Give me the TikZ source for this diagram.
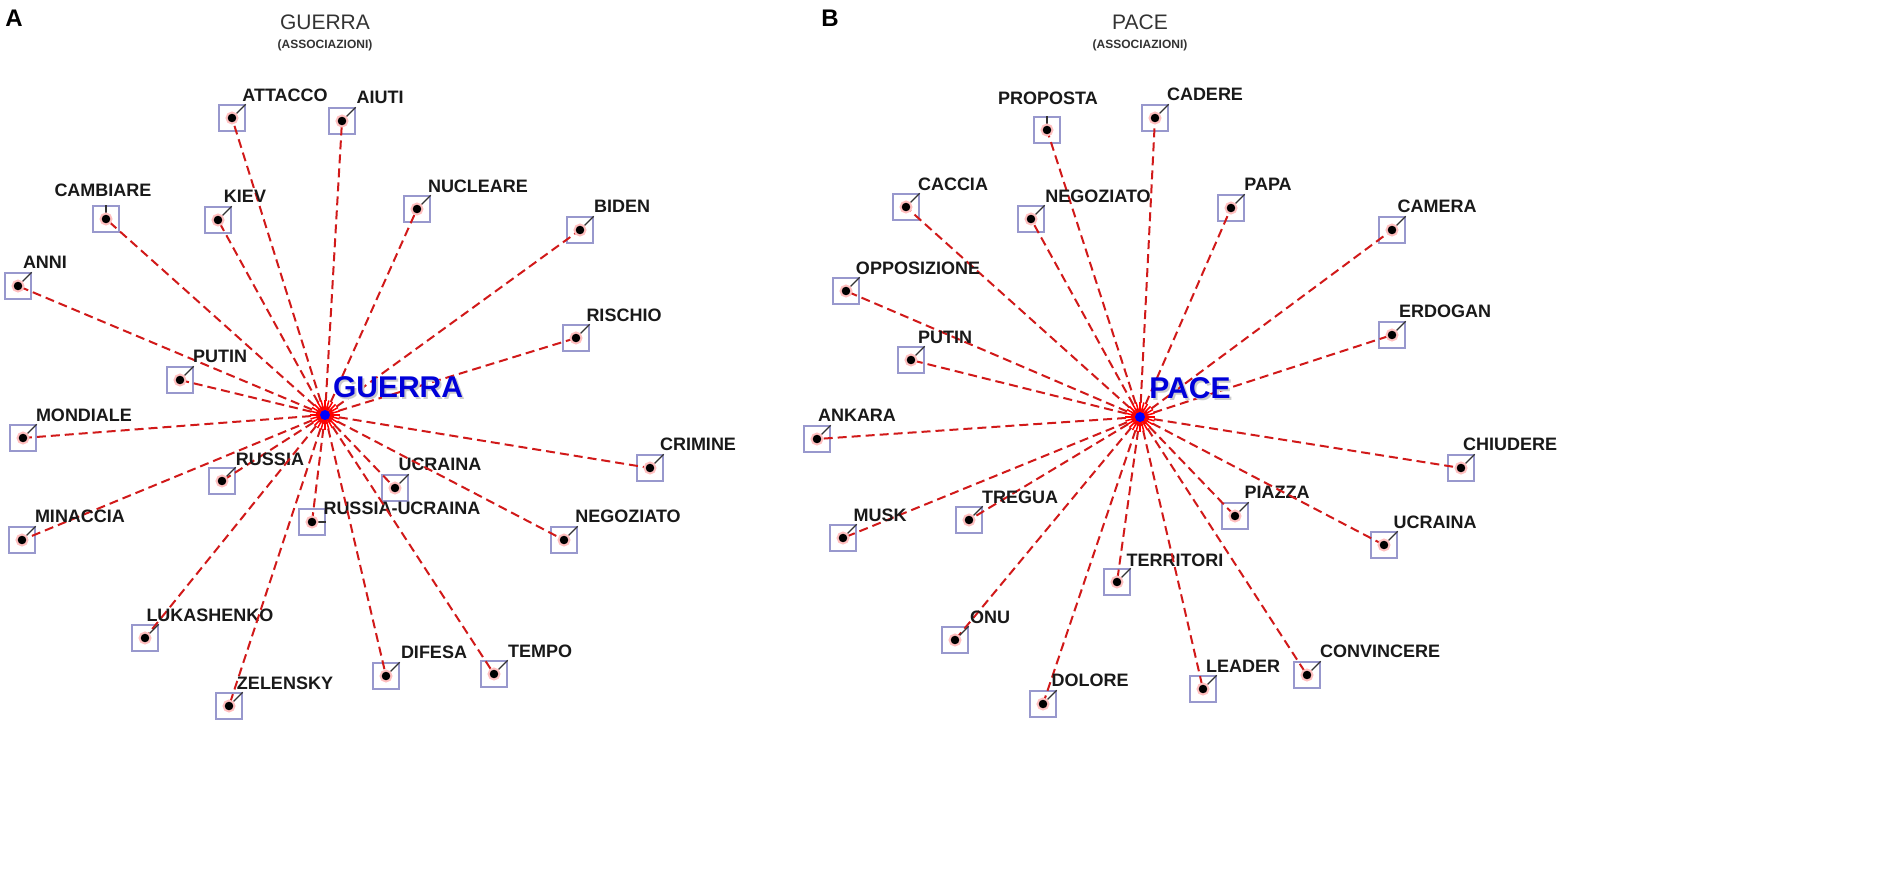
\documentclass[tikz,border=0pt]{standalone}
\usepackage{fontspec}
\setmainfont{Liberation Sans}
\begin{document}
\begin{tikzpicture}[x=1pt,y=-1pt,
  boxs/.style={draw=blue!35!gray!60,line width=1.3pt,minimum size=26pt,inner sep=0pt},
  dotc/.style={circle,fill=black,minimum size=11pt,inner sep=0pt,draw=red!25,line width=2pt},
  lab/.style={font=\fontsize{18}{20}\selectfont\bfseries,text=black!90},
  edge/.style={draw=red!80!black!90,line width=2pt,dash pattern=on 9pt off 5pt},
  tick/.style={draw=black!80,line width=1.2pt},
  big/.style={font=\fontsize{30}{32}\selectfont\bfseries,text=blue!85!black},
  ttl/.style={font=\fontsize{21}{24}\selectfont,text=black!80},
  sub/.style={font=\fontsize{12}{14}\selectfont\bfseries,text=black!80}]
\useasboundingbox (0,0) rectangle (1901,881);
\newcommand{\wnode}[8]{%
  \node[boxs] (#1) at (#2,#3) {};
  \draw[edge] (#8) -- (#1.center);
  \draw[tick] (#1.center) -- (#1.#7);
  \node[dotc] (#1d) at (#2,#3) {};
  \node[lab] (#1l) at (#5,#6) {#4};}
% centres
\coordinate (ca) at (325,415);
\coordinate (cb) at (1140,417);
% Panel A
\foreach \n/\x/\y/\t/\lx/\ly/\a in {
 a1/232/118/ATTACCO/285/95/north east, a2/342/121/AIUTI/380/97/north east,
 a3/106/219/CAMBIARE/103/190/north, a4/218/220/KIEV/245/196/north east,
 a5/417/209/NUCLEARE/478/186/north east, a6/580/230/BIDEN/622/206/north east,
 a7/18/286/ANNI/45/262/north east, a8/576/338/RISCHIO/624/315/north east,
 a9/180/380/PUTIN/220/356/north east, a10/23/438/MONDIALE/84/415/north east,
 a11/650/468/CRIMINE/698/444/north east, a12/222/481/RUSSIA/270/459/north east,
 a13/395/488/UCRAINA/440/464/north east, a14/22/540/MINACCIA/80/516/north east,
 a15/312/522/RUSSIA-UCRAINA/402/508/east, a16/564/540/NEGOZIATO/628/516/north east,
 a17/145/638/LUKASHENKO/210/615/north east, a18/386/676/DIFESA/434/652/north east,
 a19/494/674/TEMPO/540/651/north east, a20/229/706/ZELENSKY/285/683/north east}
 {\wnode{\n}{\x}{\y}{\t}{\lx}{\ly}{\a}{ca}}
% Panel B
\foreach \n/\x/\y/\t/\lx/\ly/\a in {
 b1/1047/130/PROPOSTA/1048/98/north, b2/1155/118/CADERE/1205/94/north east,
 b3/906/207/CACCIA/953/184/north east, b4/1031/219/NEGOZIATO/1098/196/north east,
 b5/1231/208/PAPA/1268/184/north east, b6/1392/230/CAMERA/1437/206/north east,
 b7/846/291/OPPOSIZIONE/918/268/north east, b8/1392/335/ERDOGAN/1445/311/north east,
 b9/911/360/PUTIN/945/337/north east, b10/817/439/ANKARA/857/415/north east,
 b11/1461/468/CHIUDERE/1510/444/north east, b12/843/538/MUSK/880/515/north east,
 b13/969/520/TREGUA/1020/497/north east, b14/1235/516/PIAZZA/1277/492/north east,
 b15/1384/545/UCRAINA/1435/522/north east, b16/1117/582/TERRITORI/1175/560/north east,
 b17/955/640/ONU/990/617/north east, b18/1307/675/CONVINCERE/1380/651/north east,
 b19/1043/704/DOLORE/1090/680/north east, b20/1203/689/LEADER/1243/666/north east}
 {\wnode{\n}{\x}{\y}{\t}{\lx}{\ly}{\a}{cb}}
% hubs
\foreach \c in {ca,cb}{
  \foreach \ang in {0,15,...,345}{\draw[red,line width=1.5pt] (\c) -- ++(\ang:15);}
}
\node[circle,fill=blue,minimum size=10pt,inner sep=0pt] (ha) at (ca) {};
\node[circle,fill=blue,minimum size=10pt,inner sep=0pt] (hb) at (cb) {};
\node[big,text=gray!40] at (400,389) {GUERRA};
\node[big] (ga) at (398,387) {GUERRA};
\node[big,text=gray!40] at (1192,390) {PACE};
\node[big] (gb) at (1190,388) {PACE};
% titles
\node[ttl] (ta) at (325,22) {GUERRA};
\node[sub] (sa) at (325,45) {(ASSOCIAZIONI)};
\node[ttl] (tb) at (1140,22) {PACE};
\node[sub] (sb) at (1140,45) {(ASSOCIAZIONI)};
\node[font=\fontsize{24}{26}\selectfont\bfseries] (A) at (14,18) {A};
\node[font=\fontsize{24}{26}\selectfont\bfseries] (B) at (830,18) {B};
\end{tikzpicture}
\end{document}
